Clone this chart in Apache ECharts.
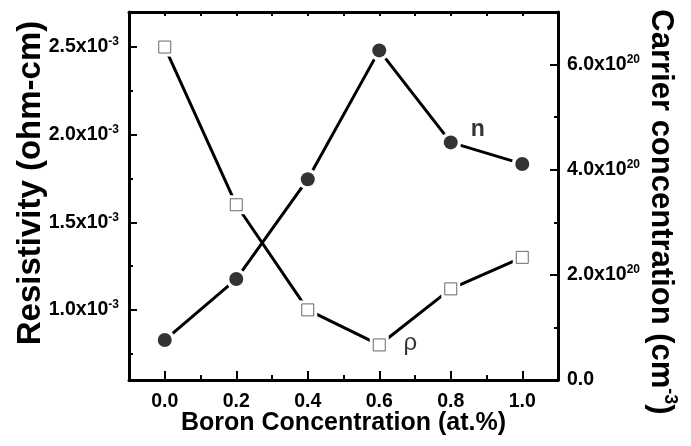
<!DOCTYPE html>
<html>
<head>
<meta charset="utf-8">
<script src="https://cdn.jsdelivr.net/npm/echarts@6/dist/echarts.min.js"></script>
<style>
  html, body { margin: 0; padding: 0; background: #fff; }
  #chart { width: 691px; height: 446px; }
</style>
</head>
<body>
<div id="chart"></div>
<script>
// Boron doping series: resistivity (x10^-3 ohm-cm) and carrier concentration (x10^20 cm^-3)
const boron = [0.0, 0.2, 0.4, 0.6, 0.8, 1.0];
const resistivity = [2.5, 1.6, 1.0, 0.8, 1.12, 1.3];
const carrier = [0.76, 1.92, 3.82, 6.27, 4.52, 4.11];

// Tick positions
const xTicks = [0.0, 0.2, 0.4, 0.6, 0.8, 1.0];
const xMinorTicks = [0.1, 0.3, 0.5, 0.7, 0.9];
const xTopTicks = [0.0, 0.1, 0.2, 0.3, 0.4, 0.5, 0.6, 0.7, 0.8, 0.9, 1.0];
const resTicks = [1.0, 1.5, 2.0, 2.5];
const resMinorTicks = [0.75, 1.25, 1.75, 2.25];
const carTicks = [0, 2, 4, 6];
const carMinorTicks = [1, 3, 5];

const FONT = "'Liberation Sans', Arial, Helvetica, sans-serif";
const AXIS_W = 3;

const tickRich = {
  m: { fontFamily: FONT, fontWeight: 'bold', fontSize: 19.5, lineHeight: 22, color: '#000' },
  s: { fontFamily: FONT, fontWeight: 'bold', fontSize: 12, lineHeight: 8, verticalAlign: 'top', color: '#000' }
};

const baseLine = { show: true, onZero: false, lineStyle: { color: '#000', width: AXIS_W } };
const hiddenLine = { show: false, onZero: false };

const chart = echarts.init(document.getElementById('chart'), null, { renderer: 'canvas' });

const pairs = (ys) => boron.map((x, i) => [x, ys[i]]);

const option = {
  animation: false,
  backgroundColor: '#fff',
  grid: { left: 129, right: 133, top: 12, bottom: 66, containLabel: false, outerBoundsMode: 'none' },
  xAxis: [
    {
      type: 'value', min: -0.1, max: 1.1, position: 'bottom',
      axisLine: baseLine,
      splitLine: { show: false },
      axisTick: { show: true, inside: true, length: 9, customValues: xTicks, lineStyle: { width: 2, color: '#000' } },
      axisLabel: {
        show: true, customValues: xTicks, margin: 12,
        formatter: (v) => v.toFixed(1),
        fontFamily: FONT, fontWeight: 'bold', fontSize: 19.5, color: '#000'
      },
      name: 'Boron Concentration (at.%)',
      nameLocation: 'middle', nameGap: 31, nameMoveOverlap: false,
      nameTextStyle: { fontFamily: FONT, fontWeight: 'bold', fontSize: 25, color: '#000' }
    },
    {
      type: 'value', min: -0.1, max: 1.1, position: 'bottom',
      axisLine: hiddenLine,
      splitLine: { show: false },
      axisTick: { show: true, inside: true, length: 5, customValues: xMinorTicks, lineStyle: { width: 2, color: '#000' } },
      axisLabel: { show: false }
    },
    {
      type: 'value', min: -0.1, max: 1.1, position: 'top',
      axisLine: baseLine,
      splitLine: { show: false },
      axisTick: { show: true, inside: true, length: 4, customValues: xTopTicks, lineStyle: { width: 2, color: '#000' } },
      axisLabel: { show: false }
    }
  ],
  yAxis: [
    {
      type: 'value', min: 0.6, max: 2.7, position: 'left',
      axisLine: baseLine,
      splitLine: { show: false },
      axisTick: { show: true, inside: true, length: 8, customValues: resTicks, lineStyle: { width: 2, color: '#000' } },
      axisLabel: {
        show: true, customValues: resTicks, margin: 10,
        formatter: (v) => '{m|' + v.toFixed(1) + 'x10}{s|-3}',
        rich: tickRich
      },
      name: 'Resistivity (ohm-cm)',
      nameLocation: 'middle', nameGap: 82, nameRotate: 90, nameMoveOverlap: false,
      nameTextStyle: { fontFamily: FONT, fontWeight: 'bold', fontSize: 33, color: '#000', padding: [0, 0, 0, 26] }
    },
    {
      type: 'value', min: 0.6, max: 2.7, position: 'left',
      axisLine: hiddenLine,
      splitLine: { show: false },
      axisTick: { show: true, inside: true, length: 4, customValues: resMinorTicks, lineStyle: { width: 2, color: '#000' } },
      axisLabel: { show: false }
    },
    {
      type: 'value', min: 0, max: 7, position: 'right',
      axisLine: baseLine,
      splitLine: { show: false },
      axisTick: { show: true, inside: true, length: 8, customValues: carTicks, lineStyle: { width: 2, color: '#000' } },
      axisLabel: {
        show: true, customValues: carTicks, margin: 9,
        formatter: (v) => v === 0 ? '{m|0.0}' : '{m|' + v.toFixed(1) + 'x10}{s|20}',
        rich: tickRich
      },
      name: '{t|Carrier concentration (cm}{s|-3}{t|)}',
      nameLocation: 'middle', nameGap: 85, nameRotate: -90, nameMoveOverlap: false,
      nameTextStyle: {
        padding: [0, 0, 0, 32],
        rich: {
          t: { fontFamily: FONT, fontWeight: 'bold', fontSize: 31, lineHeight: 36, color: '#000' },
          s: { fontFamily: FONT, fontWeight: 'bold', fontSize: 18, lineHeight: 14, verticalAlign: 'top', color: '#000' }
        }
      }
    },
    {
      type: 'value', min: 0, max: 7, position: 'right',
      axisLine: hiddenLine,
      splitLine: { show: false },
      axisTick: { show: true, inside: true, length: 4, customValues: carMinorTicks, lineStyle: { width: 2, color: '#000' } },
      axisLabel: { show: false }
    }
  ],
  series: [
    // connecting lines; the white symbols leave a small gap around each marker
    {
      type: 'line', xAxisIndex: 0, yAxisIndex: 0,
      data: pairs(resistivity),
      symbol: 'rect', symbolSize: 19,
      itemStyle: { color: '#fff', borderWidth: 0 },
      lineStyle: { color: '#000', width: 3 },
      z: 2
    },
    {
      type: 'line', xAxisIndex: 0, yAxisIndex: 2,
      data: pairs(carrier),
      symbol: 'circle', symbolSize: 21,
      itemStyle: { color: '#fff', borderWidth: 0 },
      lineStyle: { color: '#000', width: 3 },
      z: 2
    },
    // markers
    {
      type: 'scatter', xAxisIndex: 0, yAxisIndex: 0,
      data: boron.map((x, i) => {
        const item = { value: [x, resistivity[i]] };
        if (i === 3) {
          item.label = {
            show: true, formatter: 'ρ', position: 'inside', offset: [31, -2],
            fontFamily: FONT, fontSize: 24, color: '#000'
          };
        }
        return item;
      }),
      symbol: 'rect', symbolSize: 12,
      itemStyle: { color: '#fff', borderColor: '#444', borderWidth: 1 },
      z: 3
    },
    {
      type: 'scatter', xAxisIndex: 0, yAxisIndex: 2,
      data: boron.map((x, i) => {
        const item = { value: [x, carrier[i]] };
        if (i === 4) {
          item.label = {
            show: true, formatter: 'n', position: 'inside', offset: [27, -13],
            fontFamily: FONT, fontWeight: 'bold', fontSize: 23, color: '#000'
          };
        }
        return item;
      }),
      symbol: 'circle', symbolSize: 14,
      itemStyle: { color: '#000' },
      z: 3
    }
  ]
};

chart.setOption(option);
</script>
</body>
</html>
